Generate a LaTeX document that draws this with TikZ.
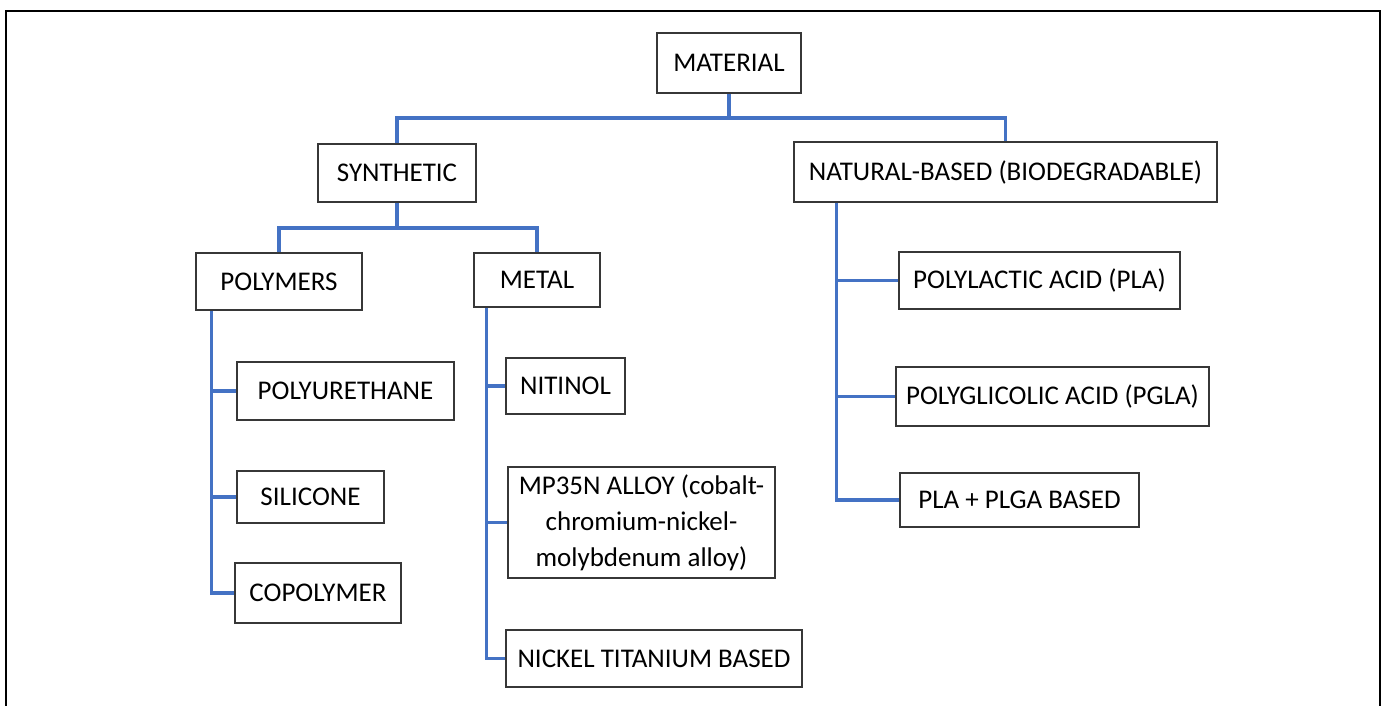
\documentclass[tikz,border=0pt]{standalone}
\usepackage{fontspec}
\setmainfont{Carlito}
\definecolor{linkblue}{RGB}{68,114,196}
\definecolor{boxgray}{RGB}{55,55,55}
\tikzset{
  box/.style={draw=boxgray, line width=1.5pt, rectangle, inner sep=0pt, align=center,
    font=\fontsize{27}{36}\selectfont},
  conn/.style={draw=linkblue, line width=3.2pt, line join=miter},
}
\begin{document}
\begin{tikzpicture}[x=1pt,y=-1pt]
\useasboundingbox (0,0) rectangle (1382,705);
\draw[line width=2pt] (6,706) -- (6,11) -- (1380,11) -- (1380,706);

\node[box, minimum width=144pt, minimum height=60pt] (mat) at (729,63) {MATERIAL};
\node[box, minimum width=158pt, minimum height=58pt] (syn) at (397,173) {SYNTHETIC};
\node[box, minimum width=423pt, minimum height=60pt] (nat) at (1005.5,172) {NATURAL-BASED (BIODEGRADABLE)};
\node[box, minimum width=166pt, minimum height=57pt] (poly) at (279,281.5) {POLYMERS};
\node[box, minimum width=126pt, minimum height=54pt] (metal) at (537,280) {METAL};
\node[box, minimum width=217pt, minimum height=58pt] (pu) at (345.5,391) {POLYURETHANE};
\node[box, minimum width=147pt, minimum height=52pt] (si) at (310.5,497) {SILICONE};
\node[box, minimum width=166pt, minimum height=60pt] (co) at (318,593) {COPOLYMER};
\node[box, minimum width=119pt, minimum height=56pt] (nit) at (565.5,386) {NITINOL};
\node[box, minimum width=267pt, minimum height=111pt] (mp) at (641.5,522.5) {MP35N ALLOY (cobalt-\\chromium-nickel-\\molybdenum alloy)};
\node[box, minimum width=296pt, minimum height=57pt] (ni) at (654,658.5) {NICKEL TITANIUM BASED};
\node[box, minimum width=281pt, minimum height=57pt] (pla) at (1039.5,280.5) {POLYLACTIC ACID (PLA)};
\node[box, minimum width=313pt, minimum height=59pt] (pgla) at (1052.5,396.5) {POLYGLICOLIC ACID (PGLA)};
\node[box, minimum width=239pt, minimum height=54pt] (plga) at (1019.5,500) {PLA + PLGA BASED};

% top level
\coordinate (j1) at (730,118);
\draw[conn] (mat.south) -- (mat.south |- j1);
\draw[conn] (syn.north) -- (syn.north |- j1) -- (nat.north |- j1) -- (nat.north);

% synthetic
\coordinate (j2) at (397,228);
\draw[conn] (syn.south) -- (j2);
\draw[conn] (poly.north) -- (poly.north |- j2) -- (metal.north |- j2) -- (metal.north);

% polymers
\coordinate (pt) at ([xshift=16pt]poly.south west);
\draw[conn] (pt) |- (pu.west);
\draw[conn] (pt) |- (si.west);
\draw[conn] (pt) |- (co.west);

% metal
\coordinate (mt) at ([xshift=13pt]metal.south west);
\draw[conn] (mt) |- (nit.west);
\draw[conn] (mt) |- (mp.west);
\draw[conn] (mt) |- (ni.west);

% natural
\coordinate (nt) at ([xshift=43pt]nat.south west);
\draw[conn] (nt) |- (pla.west);
\draw[conn] (nt) |- (pgla.west);
\draw[conn] (nt) |- (plga.west);
\end{tikzpicture}
\end{document}
